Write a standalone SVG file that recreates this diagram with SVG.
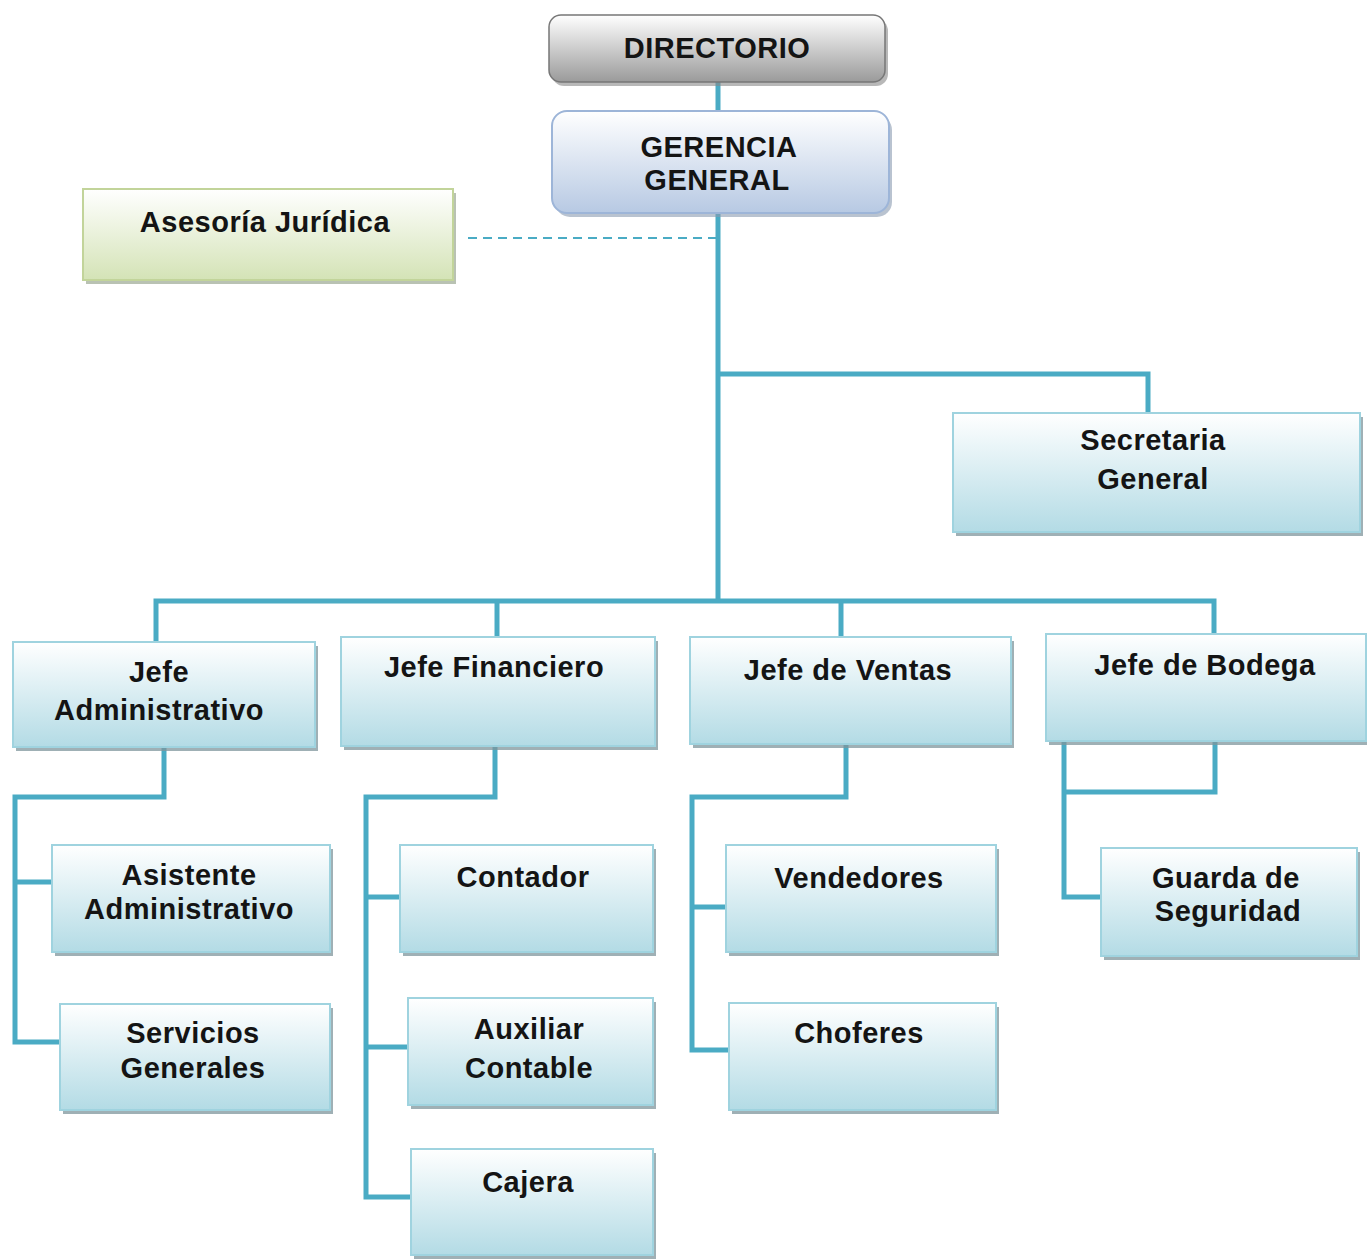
<svg xmlns="http://www.w3.org/2000/svg" width="1367" height="1259" viewBox="0 0 1367 1259">
<defs>
<linearGradient id="gBlue" x1="0" y1="0" x2="0" y2="1"><stop offset="0" stop-color="#ffffff"/><stop offset="1" stop-color="#b3dbe5"/></linearGradient>
<linearGradient id="gGer" x1="0" y1="0" x2="0" y2="1"><stop offset="0" stop-color="#ffffff"/><stop offset="1" stop-color="#b7c9e3"/></linearGradient>
<linearGradient id="gDir" x1="0" y1="0" x2="0" y2="1"><stop offset="0" stop-color="#ffffff"/><stop offset="1" stop-color="#9a9a9a"/></linearGradient>
<linearGradient id="gGreen" x1="0" y1="0" x2="0" y2="1"><stop offset="0" stop-color="#ffffff"/><stop offset="1" stop-color="#d4e3b6"/></linearGradient>
</defs>
<style>
.box{fill:url(#gBlue);stroke:#9fd3df;stroke-width:2}
.sh{fill:#7f969c;opacity:0.75}
.t{font-family:"Liberation Sans",Arial,sans-serif;font-weight:bold;font-size:29px;fill:#141414;text-anchor:middle;letter-spacing:0.5px}
.c{fill:none;stroke:#4aabc4;stroke-width:5;stroke-linejoin:miter}
</style>
<g id="connectors">
<path class="c" d="M718 82 V111"/>
<path class="c" d="M718 213 V600"/>
<path d="M468 238 H716" fill="none" stroke="#4aabc4" stroke-width="2" stroke-dasharray="9,6"/>
<path class="c" d="M718 374 H1148 V413"/>
<path class="c" d="M156 642 V601 H1214 V634"/>
<path class="c" d="M497 601 V637"/>
<path class="c" d="M841 601 V637"/>
<path class="c" d="M164 747 V797 H15 V1042 H60"/>
<path class="c" d="M15 882 H52"/>
<path class="c" d="M495 746 V797 H366 V1197 H411"/>
<path class="c" d="M366 897 H400"/>
<path class="c" d="M366 1047 H408"/>
<path class="c" d="M846 744 V797 H692 V1050 H729"/>
<path class="c" d="M692 907 H726"/>
<path class="c" d="M1215 741 V792 H1065"/>
<path class="c" d="M1064 741 V897 H1101"/>
</g>
<g id="directorio">
<rect x="552" y="19" width="336" height="67" rx="12" fill="#888" opacity="0.6"/>
<rect x="549" y="15" width="336" height="67" rx="12" fill="url(#gDir)" stroke="#777" stroke-width="1.5"/>
<text class="t" x="717" y="58" font-size="30" letter-spacing="1">DIRECTORIO</text>
</g>
<g id="gerencia">
<rect x="555" y="115" width="337" height="102" rx="15" fill="#8a9bb0" opacity="0.6"/>
<rect x="552" y="111" width="337" height="102" rx="15" fill="url(#gGer)" stroke="#9db5d8" stroke-width="2"/>
<text class="t" x="719" y="157" letter-spacing="2.5">GERENCIA</text>
<text class="t" x="717" y="190" letter-spacing="2.5">GENERAL</text>
</g>
<g id="asesoria">
<rect x="86" y="193" width="370" height="91" fill="#8a9a80" opacity="0.6"/>
<rect x="83" y="189" width="370" height="91" fill="url(#gGreen)" stroke="#c2d49a" stroke-width="2"/>
<text class="t" x="265" y="232">Asesoría Jurídica</text>
</g>
<g id="secretaria">
<rect class="sh" x="956" y="417" width="407" height="119"/>
<rect class="box" x="953" y="413" width="407" height="119"/>
<text class="t" x="1153" y="450">Secretaria</text>
<text class="t" x="1153" y="489">General</text>
</g>
<g id="jefe-adm">
<rect class="sh" x="16" y="646" width="302" height="105"/>
<rect class="box" x="13" y="642" width="302" height="105"/>
<text class="t" x="159" y="682">Jefe</text>
<text class="t" x="159" y="720">Administrativo</text>
</g>
<g id="jefe-fin">
<rect class="sh" x="344" y="641" width="314" height="109"/>
<rect class="box" x="341" y="637" width="314" height="109"/>
<text class="t" x="494" y="677">Jefe Financiero</text>
</g>
<g id="jefe-ventas">
<rect class="sh" x="693" y="641" width="321" height="107"/>
<rect class="box" x="690" y="637" width="321" height="107"/>
<text class="t" x="848" y="680">Jefe de Ventas</text>
</g>
<g id="jefe-bodega">
<rect class="sh" x="1049" y="638" width="320" height="107"/>
<rect class="box" x="1046" y="634" width="320" height="107"/>
<text class="t" x="1205" y="675">Jefe de Bodega</text>
</g>
<g id="asistente">
<rect class="sh" x="55" y="849" width="278" height="107"/>
<rect class="box" x="52" y="845" width="278" height="107"/>
<text class="t" x="189" y="885">Asistente</text>
<text class="t" x="189" y="919">Administrativo</text>
</g>
<g id="servicios">
<rect class="sh" x="63" y="1008" width="270" height="106"/>
<rect class="box" x="60" y="1004" width="270" height="106"/>
<text class="t" x="193" y="1043">Servicios</text>
<text class="t" x="193" y="1078">Generales</text>
</g>
<g id="contador">
<rect class="sh" x="403" y="849" width="253" height="107"/>
<rect class="box" x="400" y="845" width="253" height="107"/>
<text class="t" x="523" y="887">Contador</text>
</g>
<g id="auxiliar">
<rect class="sh" x="411" y="1002" width="245" height="107"/>
<rect class="box" x="408" y="998" width="245" height="107"/>
<text class="t" x="529" y="1039">Auxiliar</text>
<text class="t" x="529" y="1078">Contable</text>
</g>
<g id="cajera">
<rect class="sh" x="414" y="1153" width="242" height="106"/>
<rect class="box" x="411" y="1149" width="242" height="106"/>
<text class="t" x="528" y="1192">Cajera</text>
</g>
<g id="vendedores">
<rect class="sh" x="729" y="849" width="270" height="107"/>
<rect class="box" x="726" y="845" width="270" height="107"/>
<text class="t" x="859" y="888">Vendedores</text>
</g>
<g id="choferes">
<rect class="sh" x="732" y="1007" width="267" height="107"/>
<rect class="box" x="729" y="1003" width="267" height="107"/>
<text class="t" x="859" y="1043">Choferes</text>
</g>
<g id="guarda">
<rect class="sh" x="1104" y="852" width="256" height="108"/>
<rect class="box" x="1101" y="848" width="256" height="108"/>
<text class="t" x="1226" y="888">Guarda de</text>
<text class="t" x="1228" y="921">Seguridad</text>
</g>
</svg>
